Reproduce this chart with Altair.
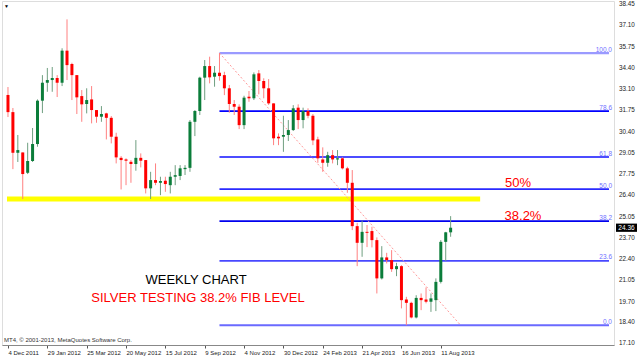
import altair as alt
import pandas as pd

# ---- weekly candles (week index 0 = 4 Dec 2011) ----
opens = [32.72, 31.64, 29.08, 29.10, 27.82, 28.56, 29.63, 32.36, 33.49, 33.66,
         33.79, 33.49, 35.51, 34.67, 33.97, 32.65, 32.15, 32.44, 31.77, 31.35,
         31.56, 31.28, 30.09, 28.76, 28.66, 28.51, 28.37, 28.76, 28.62, 26.84,
         27.36, 27.19, 27.32, 27.04, 27.57, 27.62, 28.05, 28.13, 31.03, 31.71,
         33.81, 34.54, 33.87, 34.12, 33.97, 33.14, 32.15, 31.98, 30.82, 32.61,
         32.51, 34.08, 33.60, 33.14, 32.19, 30.09, 30.09, 30.20, 30.51, 31.92,
         31.14, 31.71, 31.41, 29.92, 28.66, 28.45, 28.93, 28.66, 28.73, 28.10,
         27.19, 24.46, 23.41, 24.10, 24.15, 23.58, 21.17, 22.49, 22.32, 21.75,
         21.94, 19.84, 19.63, 18.71, 19.94, 19.84, 19.70, 19.80, 20.95, 23.47,
         24.07]
highs = [33.22, 31.90, 30.20, 29.10, 29.71, 30.64, 32.44, 33.97, 34.42, 34.48,
         33.97, 35.66, 37.48, 34.75, 33.97, 33.03, 33.14, 33.28, 31.77, 32.02,
         31.60, 31.39, 30.34, 28.87, 28.73, 28.62, 29.88, 29.04, 28.62, 27.88,
         28.41, 27.57, 27.57, 27.88, 28.30, 28.30, 28.30, 31.14, 31.77, 33.87,
         34.92, 35.13, 34.54, 35.36, 34.18, 33.35, 32.40, 32.13, 32.67, 32.97,
         34.14, 34.29, 33.77, 33.72, 32.19, 30.30, 31.41, 31.14, 32.08, 32.13,
         31.92, 31.88, 31.52, 30.09, 29.42, 29.14, 29.25, 29.25, 28.79, 28.20,
         27.99, 24.67, 24.80, 24.53, 24.42, 23.75, 23.20, 22.78, 22.95, 22.15,
         22.00, 20.01, 19.70, 20.11, 20.22, 20.60, 20.22, 21.17, 23.58, 24.10,
         25.09]
lows = [31.33, 28.05, 28.50, 26.17, 27.74, 28.50, 29.46, 31.58, 32.92, 32.92,
        32.59, 33.28, 33.66, 32.40, 31.52, 31.03, 31.56, 30.93, 30.97, 31.03,
        29.92, 29.67, 28.41, 26.77, 27.04, 27.19, 27.95, 28.16, 26.52, 26.17,
        27.04, 26.41, 26.62, 26.52, 27.04, 27.36, 27.68, 27.88, 30.13, 31.46,
        32.40, 33.45, 33.24, 33.62, 32.71, 31.60, 31.46, 30.57, 30.57, 32.29,
        32.40, 32.76, 32.51, 32.09, 29.56, 29.56, 29.14, 29.82, 30.45, 30.57,
        30.62, 31.25, 29.56, 28.45, 27.88, 28.20, 28.41, 28.30, 28.03, 26.56,
        24.21, 21.94, 22.53, 23.14, 23.12, 20.22, 21.10, 22.11, 21.58, 21.31,
        19.28, 18.22, 18.65, 18.65, 19.17, 19.60, 19.06, 19.11, 20.85, 22.26,
        23.79]
closes = [31.64, 29.08, 29.25, 27.74, 28.56, 29.63, 32.36, 33.49, 33.66, 33.79,
          33.49, 35.51, 34.60, 33.97, 32.57, 32.13, 32.40, 31.77, 31.35, 31.52,
          31.28, 30.09, 28.79, 28.62, 28.58, 28.37, 28.76, 28.58, 26.84, 27.36,
          27.19, 27.30, 27.11, 27.57, 27.67, 28.10, 28.13, 31.03, 31.71, 33.81,
          34.54, 33.83, 34.12, 33.91, 33.14, 32.15, 31.98, 30.82, 32.55, 32.51,
          34.02, 33.60, 33.14, 32.19, 29.99, 29.99, 30.20, 30.51, 31.88, 31.14,
          31.71, 31.41, 29.86, 28.73, 28.45, 28.93, 28.66, 28.73, 28.10, 27.19,
          24.46, 23.41, 24.10, 24.04, 23.58, 21.17, 22.49, 22.32, 21.75, 21.94,
          19.80, 19.63, 18.71, 19.94, 19.80, 19.70, 19.91, 20.95, 23.47, 24.07,
          24.36]
weeks = list(range(len(opens)))

# ---- axis labels ----
x_tick_weeks = [0, 8, 16, 24, 32, 40, 48, 56, 64, 72, 80, 88]
x_tick_labels = ["4 Dec 2011", "29 Jan 2012", "25 Mar 2012", "20 May 2012",
                 "15 Jul 2012", "9 Sep 2012", "4 Nov 2012", "30 Dec 2012",
                 "24 Feb 2013", "21 Apr 2013", "16 Jun 2013", "11 Aug 2013"]
y_ticks = [38.45, 37.10, 35.75, 34.40, 33.10, 31.75, 30.40, 29.05, 27.75,
           26.40, 25.05, 23.70, 22.40, 21.05, 19.70, 18.40, 17.10]

# ---- Fibonacci retracement ----
fib_names = ["100.0", "78.6", "61.8", "50.0", "38.2", "23.6", "0.0"]
fib_values = [35.36, 31.70, 28.81, 26.79, 24.77, 22.27, 18.22]
fib_colors = ["#9a9aff", "#0000ff", "#1010ff", "#2a2aff", "#0000ee", "#4848ff", "#6a6aff"]
fib_widths = [2.2, 1.6, 1.6, 1.6, 1.8, 1.6, 1.8]
fib_start_week = 43
trend_weeks = [43, 91.8]
trend_values = [35.36, 18.30]

support_value = 26.17
support_end_week = 96
last_price = 24.36

X_MIN, X_MAX = -0.2, 122.2

df = pd.DataFrame({"w": weeks, "open": opens, "high": highs, "low": lows, "close": closes})
up = [c >= o for o, c in zip(opens, closes)]
df["body_c"] = ["#0b7d3a" if u else "#ff0000" for u in up]
df["wick_c"] = ["#6f9f80" if u else "#ff8080" for u in up]

W, H = 612, 344
xs = alt.Scale(domain=[X_MIN, X_MAX], nice=False, zero=False)
ys = alt.Scale(domain=[16.975, 38.637], nice=False, zero=False)

label_expr = "[" + ",".join("'" + s + "'" for s in x_tick_labels) + "][round(datum.value/8)]"

x_axis = alt.Axis(values=x_tick_weeks, labelExpr=label_expr, labelAlign="left",
                  labelFontSize=6, labelFont="Liberation Sans", labelColor="#222",
                  tickSize=3, tickColor="#555", domainColor="#888", labelPadding=1,
                  grid=False, title=None, labelOverlap=False, labelBound=False,
                  labelFlush=False)
y_axis = alt.Axis(values=y_ticks, orient="right", labels=False, tickSize=3,
                  tickColor="#555", domainColor="#888", grid=False, title=None)

base = alt.Chart(df)

axes = base.mark_point(opacity=0).encode(
    x=alt.X("w:Q", scale=xs, axis=x_axis),
    y=alt.Y("close:Q", scale=ys, axis=y_axis),
)

ytick_df = pd.DataFrame({"v": y_ticks, "t": [f"{v:.2f}" for v in y_ticks]})
y_labels = alt.Chart(ytick_df).mark_text(align="left", baseline="middle", fontSize=6.3,
                                         font="Liberation Sans", color="#222").encode(
    x=alt.value(W + 5),
    y=alt.Y("v:Q", scale=ys, axis=None),
    text="t:N",
)

fib_df = pd.DataFrame({"name": fib_names, "v": fib_values, "c": fib_colors,
                       "sw": fib_widths,
                       "start": [fib_start_week] * len(fib_names),
                       "end": [X_MAX] * len(fib_names)})
fib_lines = alt.Chart(fib_df).mark_rule().encode(
    x=alt.X("start:Q", scale=xs),
    x2="end:Q",
    y=alt.Y("v:Q", scale=ys, axis=None),
    color=alt.Color("c:N", scale=None),
    strokeWidth=alt.StrokeWidth("sw:Q", scale=None),
)
fib_labels = alt.Chart(fib_df).mark_text(align="right", baseline="bottom", fontSize=6.5,
                                         font="Liberation Sans", color="#7070ff", dy=-0.5).encode(
    x=alt.value(W - 2),
    y=alt.Y("v:Q", scale=ys, axis=None),
    text="name:N",
)

sup_df = pd.DataFrame({"v": [support_value], "s": [X_MIN], "e": [support_end_week]})
support = alt.Chart(sup_df).mark_rule(color="#ffff00", strokeWidth=5).encode(
    x=alt.X("s:Q", scale=xs), x2="e:Q", y=alt.Y("v:Q", scale=ys, axis=None)
)

trend_df = pd.DataFrame({"w": trend_weeks, "v": trend_values})
trend = alt.Chart(trend_df).mark_line(color="#ff9a9a", strokeWidth=1, strokeDash=[2, 2]).encode(
    x=alt.X("w:Q", scale=xs),
    y=alt.Y("v:Q", scale=ys, axis=None),
)

wicks = base.mark_rule(strokeWidth=1).encode(
    x=alt.X("w:Q", scale=xs),
    y=alt.Y("low:Q", scale=ys, axis=None),
    y2="high:Q",
    color=alt.Color("wick_c:N", scale=None),
)
bodies = base.mark_bar(size=3).encode(
    x=alt.X("w:Q", scale=xs),
    y=alt.Y("open:Q", scale=ys, axis=None),
    y2="close:Q",
    color=alt.Color("body_c:N", scale=None),
)

txt_df = pd.DataFrame({
    "t": ["WEEKLY CHART", "SILVER TESTING 38.2% FIB LEVEL", "50%", "38.2%"],
    "x": [194, 196, 516, 521],
    "y": [279, 297, 182, 215],
    "c": ["#000000", "#ff0000", "#ff0000", "#ff0000"],
})
texts = alt.Chart(txt_df).mark_text(fontSize=13, font="Liberation Sans",
                                    align="center", baseline="middle").encode(
    x=alt.X("x:Q", scale=None), y=alt.Y("y:Q", scale=None),
    text="t:N", color=alt.Color("c:N", scale=None),
)

copy_df = pd.DataFrame({"t": ["MT4, \u00a9 2001-2013, MetaQuotes Software Corp."]})
copyright_txt = alt.Chart(copy_df).mark_text(fontSize=6, font="Liberation Sans", align="left",
                                             baseline="middle", color="#333").encode(
    x=alt.value(2), y=alt.value(339), text="t:N")

icon = alt.Chart(pd.DataFrame({"t": ["\u25bc"]})).mark_text(fontSize=5, color="#000",
                                                          align="left", baseline="middle").encode(
    x=alt.value(2), y=alt.value(5), text="t:N")

lp_df = pd.DataFrame({"v": [last_price], "lo": [last_price - 0.26], "hi": [last_price + 0.26],
                      "t": [f"{last_price:.2f}"]})
lp_box = alt.Chart(lp_df).mark_rect(color="#000000").encode(
    x=alt.value(W + 2), x2=alt.value(W + 23),
    y=alt.Y("lo:Q", scale=ys, axis=None), y2="hi:Q",
)
lp_txt = alt.Chart(lp_df).mark_text(fontSize=6.5, font="Liberation Sans", color="#ffffff",
                                    align="center", baseline="middle").encode(
    x=alt.value(W + 12.5), y=alt.Y("v:Q", scale=ys, axis=None), text="t:N")

chart = alt.layer(
    axes, support, fib_lines, fib_labels, trend, wicks, bodies, texts,
    copyright_txt, icon, y_labels, lp_box, lp_txt
).properties(
    width=W, height=H,
    autosize=alt.AutoSizeParams(type="none"),
    padding={"left": 2, "top": 1, "right": 26, "bottom": 11},
).configure_view(stroke="#888", strokeWidth=1).configure(background="#ffffff")

chart.save("out.html", embed_options={"renderer": "svg", "actions": False})
